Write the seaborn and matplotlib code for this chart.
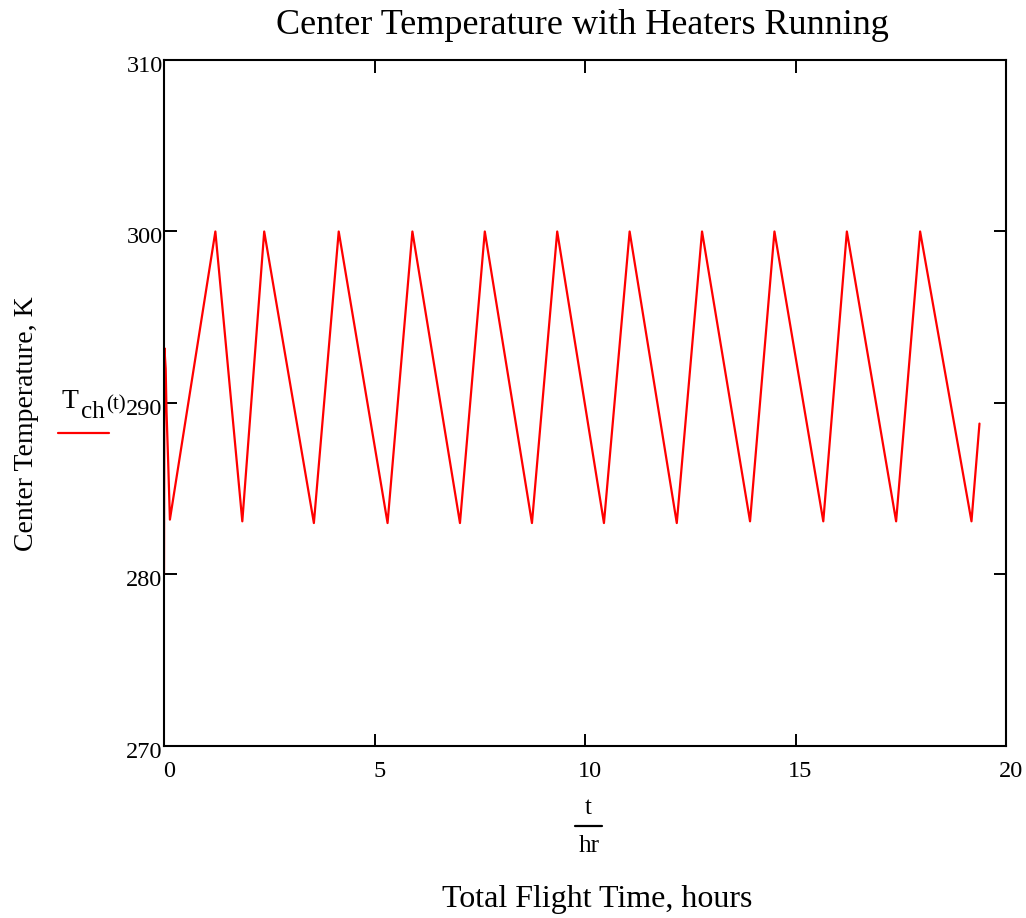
import matplotlib
matplotlib.use("Agg")
import matplotlib.pyplot as plt
import matplotlib.transforms as mtransforms
from matplotlib.lines import Line2D
import seaborn as sns
import pandas as pd

# Centre temperature of the payload (K) against flight time (hours):
# start-up transient, then alternating heater-on peaks and heater-off troughs.
time_hr = [0.00, 0.01, 0.04, 0.06, 0.10, 0.14,
           1.22, 1.86, 2.38, 3.56, 4.15, 5.31, 5.90, 7.03, 7.62, 8.74,
           9.34, 10.45, 11.06, 12.18, 12.78, 13.92, 14.50, 15.66, 16.22,
           17.39, 17.96, 19.18, 19.37]
temp_k = [280.0, 293.2, 292.0, 289.5, 286.5, 283.2,
          300.0, 283.1, 300.0, 283.0, 300.0, 283.0, 300.0, 283.0, 300.0, 283.0,
          300.0, 283.0, 300.0, 283.0, 300.0, 283.1, 300.0, 283.1, 300.0,
          283.1, 300.0, 283.1, 288.8]

x_ticks = [0, 5, 10, 15, 20]
y_ticks = [270, 280, 290, 300, 310]

df = pd.DataFrame({"t": time_hr, "T": temp_k})

sns.set_theme(style="white")
plt.rcParams["font.family"] = ["Liberation Serif", "DejaVu Serif"]
plt.rcParams["text.color"] = "black"

W, H = 1026, 918
fig = plt.figure(figsize=(W / 100, H / 100), dpi=100)
ax = fig.add_axes([164 / W, 1 - 746 / H, (1006 - 164) / W, (746 - 60) / H])

sns.lineplot(data=df, x="t", y="T", sort=False, estimator=None,
             color="#ff0000", linewidth=1.6, ax=ax)

ax.set_xlim(0, 20)
ax.set_ylim(270, 310)
ax.set_xticks(x_ticks)
ax.set_yticks(y_ticks)
ax.set_xticklabels([str(v) for v in x_ticks])
ax.set_yticklabels([str(v) for v in y_ticks])
ax.set_xlabel("")
ax.set_ylabel("")

for s in ax.spines.values():
    s.set_visible(True)
    s.set_color("black")
    s.set_linewidth(1.5)

ax.tick_params(axis="both", which="both", direction="in", length=9, width=1.4,
               color="black", labelcolor="black", labelsize=17.5,
               top=True, right=True, bottom=True, left=True)
ax.tick_params(axis="x", pad=11)
ax.tick_params(axis="y", pad=1)

# nudge tick labels: x labels a little right, y labels a little down
x_off = mtransforms.ScaledTranslation(5 / 100, 0, fig.dpi_scale_trans)
for lbl in ax.get_xticklabels():
    lbl.set_transform(lbl.get_transform() + x_off)
y_off = mtransforms.ScaledTranslation(0, -4 / 100, fig.dpi_scale_trans)
for lbl in ax.get_yticklabels():
    lbl.set_transform(lbl.get_transform() + y_off)

# titles and axis captions
fig.text(582 / W, 1 - 26 / H, "Center Temperature with Heaters Running",
         ha="center", va="center", fontsize=26, color="black")
fig.text(27 / W, 1 - 424 / H, "Center Temperature, K", rotation=90,
         ha="center", va="center", fontsize=20, color="black")
fig.text(597 / W, 1 - 900 / H, "Total Flight Time, hours",
         ha="center", va="center", fontsize=23, color="black")

# x expression t / hr
fig.text(588 / W, 1 - 808 / H, "t", ha="center", va="center", fontsize=18,
         color="black")
fig.add_artist(Line2D([575 / W, 602 / W], [1 - 826 / H, 1 - 826 / H],
                      color="black", linewidth=1.6, transform=fig.transFigure))
fig.text(589 / W, 1 - 846 / H, "hr", ha="center", va="center", fontsize=18,
         color="black")

# y expression T_ch(t) with its trace sample
fig.text(62 / W, 1 - 408 / H, "T", ha="left", va="baseline", fontsize=20,
         color="black")
fig.text(81 / W, 1 - 418 / H, "ch", ha="left", va="baseline", fontsize=18,
         color="black")
fig.text(106 / W, 1 - 409 / H, "(t)", ha="left", va="baseline", fontsize=15,
         color="black")
fig.add_artist(Line2D([58 / W, 109 / W], [1 - 433 / H, 1 - 433 / H],
                      color="#ff0000", linewidth=1.6, transform=fig.transFigure))

fig.savefig("out.png", dpi=100)
